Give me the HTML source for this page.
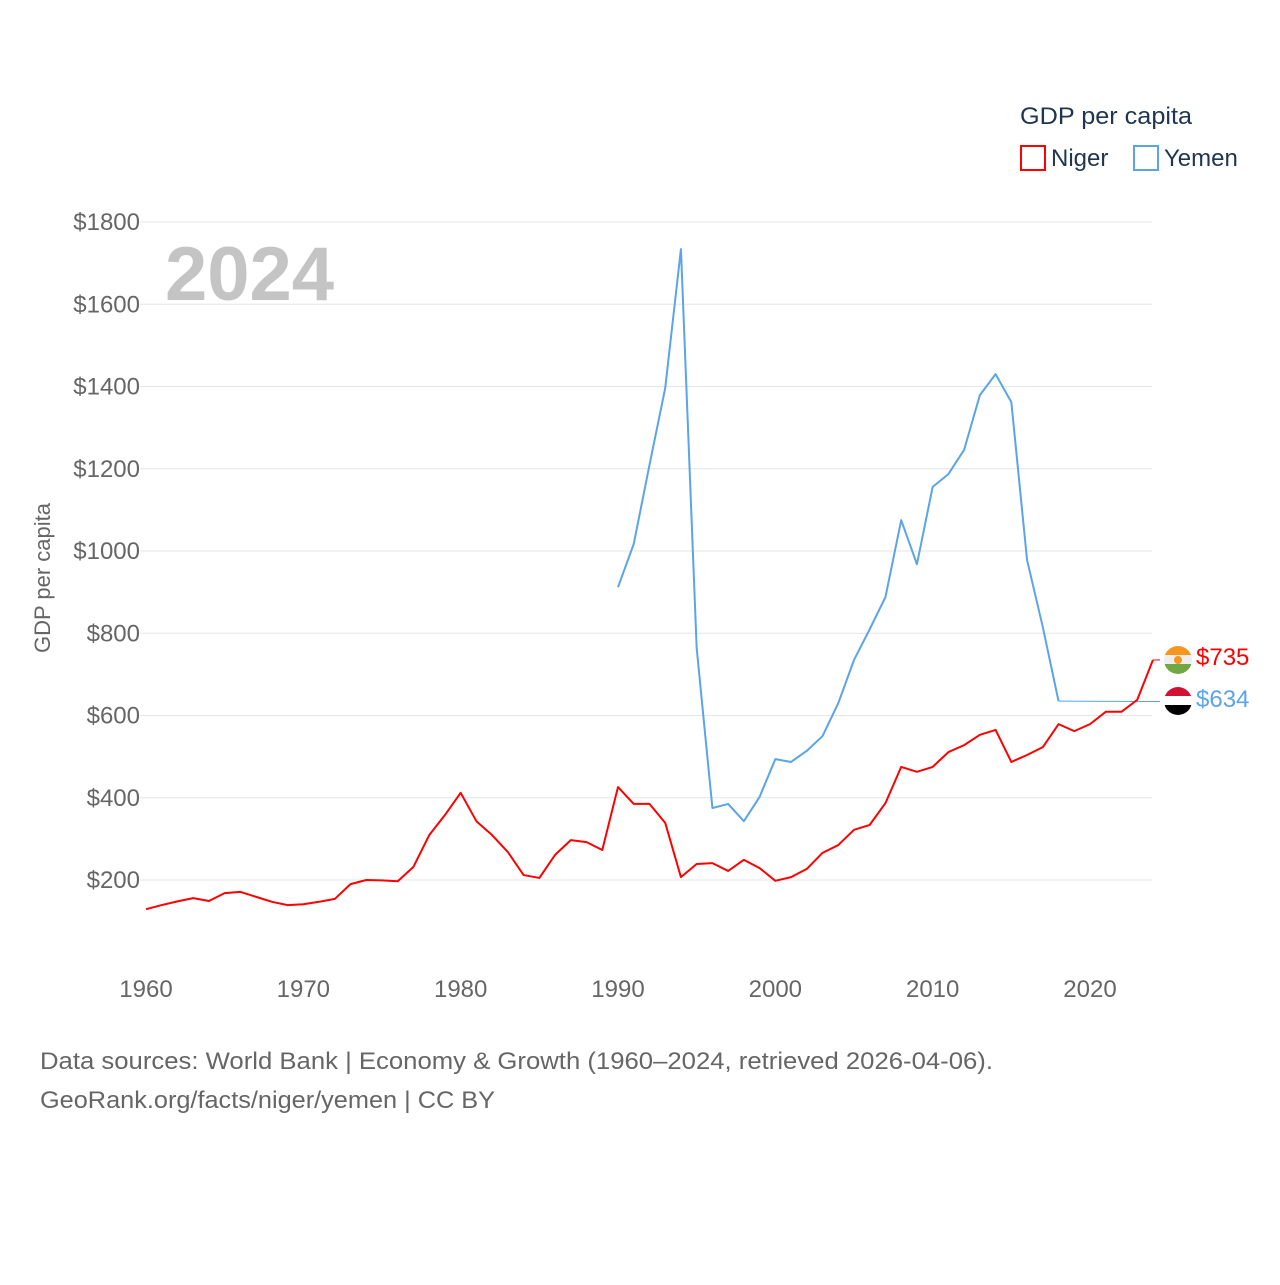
<!DOCTYPE html>
<html><head><meta charset="utf-8">
<style>
html,body{margin:0;padding:0;background:#fff;}
body{width:1280px;height:1280px;position:relative;font-family:"Liberation Sans",sans-serif;}
svg text{font-family:"Liberation Sans",sans-serif;}
</style></head>
<body>
<svg id="chart" width="1280" height="1280" xmlns="http://www.w3.org/2000/svg">
  <g id="grid"></g>
  <g id="yticks"></g>
  <g id="xticks"></g>
  <text x="165" y="300" font-size="76" font-weight="bold" fill="#c4c4c4">2024</text>
  <text transform="translate(50,578) rotate(-90)" text-anchor="middle" font-size="22" fill="#666">GDP per capita</text>
  <g id="series"></g>
  <g>
    <text x="1020" y="124" font-size="24" fill="#1f3550" textLength="172" lengthAdjust="spacingAndGlyphs">GDP per capita</text>
    <g>
      <rect x="1021" y="146" width="24" height="24" fill="none" stroke="#ff0000" stroke-width="2"/>
      <text x="1051" y="166" font-size="24" fill="#1f3550">Niger</text>
    </g>
    <g>
      <rect x="1134" y="146" width="24" height="24" fill="none" stroke="#5ba4e8" stroke-width="2"/>
      <text x="1164" y="166" font-size="24" fill="#1f3550">Yemen</text>
    </g>
  </g>
  <g>
    <clipPath id="cn"><circle cx="1178" cy="660" r="14"/></clipPath>
    <g clip-path="url(#cn)">
      <rect x="1164" y="646" width="28" height="10" fill="#f7951d"/>
      <rect x="1164" y="655" width="28" height="10" fill="#eee"/>
      <rect x="1164" y="664" width="28" height="10" fill="#71a844"/>
      <circle cx="1178" cy="660" r="4" fill="#f7951d"/>
    </g>
  </g>
  <g>
    <clipPath id="cy"><circle cx="1178" cy="701" r="14"/></clipPath>
    <g clip-path="url(#cy)">
      <rect x="1164" y="687" width="28" height="10" fill="#d21034"/>
      <rect x="1164" y="696" width="28" height="10" fill="#fff"/>
      <rect x="1164" y="705" width="28" height="10" fill="#000"/>
    </g>
  </g>
  <text x="1196" y="665" font-size="24" fill="#ff0000">$735</text>
  <text x="1196" y="707" font-size="24" fill="#5ba4e8">$634</text>
  <text x="40" y="1069" font-size="24" fill="#666" textLength="953" lengthAdjust="spacingAndGlyphs">Data sources: World Bank | Economy &amp; Growth (1960–2024, retrieved 2026-04-06).</text>
  <text x="40" y="1108" font-size="24" fill="#666" textLength="455" lengthAdjust="spacingAndGlyphs">GeoRank.org/facts/niger/yemen | CC BY</text>
</svg>
<script>
const years = [];
for (let y = 1960; y <= 2024; y++) years.push(y);
const nigerValues = [129,139,148,156,149,168,171,159,147,139,141,147,154,190,200,199,197,232,309,358,412,343,309,268,212,205,261,297,292,273,426,385,385,339,207,239,241,222,249,229,198,207,227,266,285,322,334,387,475,463,475,511,528,553,565,487,504,523,579,562,579,609,609,638,735];
const yemenYears = [1990,1991,1992,1993,1994,1995,1996,1997,1998,1999,2000,2001,2002,2003,2004,2005,2006,2007,2008,2009,2010,2011,2012,2013,2014,2015,2016,2017,2018];
const yemenValues = [912,1017,1209,1396,1734,764,375,385,343,402,494,487,514,550,630,735,810,888,1075,968,1156,1187,1246,1379,1430,1362,978,815,635];
const yemenLatest = 634;
const yTicks = [200,400,600,800,1000,1200,1400,1600,1800];
const xTicks = [1960,1970,1980,1990,2000,2010,2020];

const NS = "http://www.w3.org/2000/svg";
const xS = yr => 146 + (yr - 1960) * (944 / 60);
const yS = v => 880 - (v - 200) * (658 / 1600);
function mk(tag, attrs, parent) {
  const e = document.createElementNS(NS, tag);
  for (const k in attrs) e.setAttribute(k, attrs[k]);
  parent.appendChild(e);
  return e;
}
const grid = document.getElementById('grid');
const yt = document.getElementById('yticks');
const xt = document.getElementById('xticks');
const ser = document.getElementById('series');

yTicks.forEach(v => {
  const l = mk('line', {x1: 140, x2: 1152, y1: yS(v), y2: yS(v), stroke: '#e6e6e6', 'stroke-width': 1}, grid);
  
  
  const t = mk('text', {x: 140, y: yS(v) + 8, 'text-anchor': 'end', 'font-size': 24, fill: '#666'}, yt);
  t.textContent = '$' + v;
  
  
});
xTicks.forEach(v => {
  const t = mk('text', {x: xS(v), y: 997, 'text-anchor': 'middle', 'font-size': 24, fill: '#666'}, xt);
  t.textContent = v;
  
  
});

const yp = yemenYears.map((yr, i) => xS(yr) + ',' + yS(yemenValues[i])).join(' ');
const yl = mk('polyline', {points: yp, fill: 'none', stroke: '#5ba4e8', 'stroke-width': 2, 'stroke-linejoin': 'round'}, ser);


const lastYY = yemenYears[yemenYears.length - 1];
const yc = mk('line', {x1: xS(lastYY), x2: 1160, y1: yS(yemenValues[yemenValues.length - 1]), y2: yS(yemenLatest), stroke: '#5ba4e8', 'stroke-width': 1}, ser);



const np = years.map((yr, i) => xS(yr) + ',' + yS(nigerValues[i])).join(' ');
const nl = mk('polyline', {points: np, fill: 'none', stroke: '#ff0000', 'stroke-width': 2, 'stroke-linejoin': 'round'}, ser);


const nc = mk('line', {x1: xS(2024), x2: 1160, y1: yS(nigerValues[nigerValues.length - 1]), y2: yS(nigerValues[nigerValues.length - 1]), stroke: '#ff0000', 'stroke-width': 1}, ser);


</script>
</body></html>
